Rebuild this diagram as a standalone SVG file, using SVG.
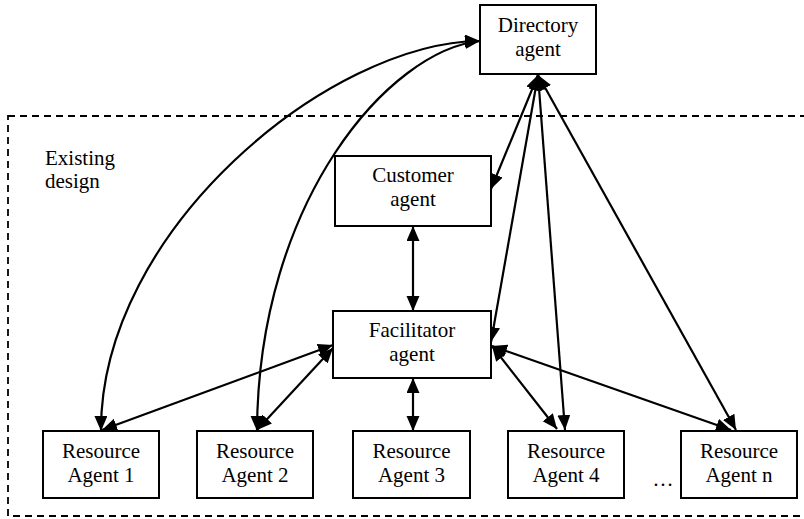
<svg xmlns="http://www.w3.org/2000/svg" width="804" height="519" viewBox="0 0 804 519">
  <style>
    .box { fill: #ffffff; stroke: #000000; stroke-width: 2; }
    text { font-family: 'Liberation Serif', 'DejaVu Serif', 'Times New Roman', serif; font-size: 21px; fill: #000000; }
    .label { text-anchor: middle; }
    .link { fill: none; stroke: #000000; stroke-width: 2.2; marker-start: url(#arrow); marker-end: url(#arrow); }
    .boundary { fill: none; stroke: #000000; stroke-width: 1.8; stroke-dasharray: 7 5; }
  </style>
  <defs>
    <marker id="arrow" markerUnits="userSpaceOnUse" markerWidth="16" markerHeight="14" refX="15" refY="6.5" orient="auto-start-reverse">
      <path d="M0,0 L15,6.5 L0,13 Z" fill="#000000"/>
    </marker>
  </defs>

  <rect width="804" height="519" fill="#ffffff"/>

  <!-- boundary of the existing system -->
  <g id="existing-design">
    <rect class="boundary" x="8" y="116" width="820" height="400"/>
    <text x="45" y="165" font-family="Liberation Serif, serif">Existing</text>
    <text x="45" y="188" font-family="Liberation Serif, serif">design</text>
  </g>

  <!-- connectors -->
  <g id="connectors">
    <path class="link" d="M480,41 C330,42 100,230 101,431"/>
    <path class="link" d="M480,41 C390,50 258,200 257,431"/>
    <line class="link" x1="413" y1="226" x2="413" y2="311"/>
    <line class="link" x1="413" y1="378" x2="413" y2="431"/>
    <line class="link" x1="538" y1="75" x2="491" y2="189"/>
    <line class="link" x1="538" y1="75" x2="491" y2="342"/>
    <line class="link" x1="538" y1="75" x2="565" y2="430"/>
    <line class="link" x1="538" y1="75" x2="736" y2="430"/>
    <line class="link" x1="333" y1="345" x2="102" y2="430"/>
    <line class="link" x1="333" y1="348" x2="257" y2="430"/>
    <line class="link" x1="492" y1="346" x2="557" y2="429"/>
    <line class="link" x1="492" y1="346" x2="731" y2="430"/>
  </g>

  <g id="directory-agent">
    <rect class="box" x="480" y="5" width="116" height="69"/>
    <text class="label" x="538" y="32">Directory</text>
    <text class="label" x="538" y="56">agent</text>
  </g>

  <g id="customer-agent">
    <rect class="box" x="335" y="156" width="156" height="70"/>
    <text class="label" x="413" y="182">Customer</text>
    <text class="label" x="413" y="206">agent</text>
  </g>

  <g id="facilitator-agent">
    <rect class="box" x="333" y="311" width="158" height="67"/>
    <text class="label" x="412" y="337">Facilitator</text>
    <text class="label" x="412" y="361">agent</text>
  </g>

  <g id="resource-agent-1">
    <rect class="box" x="43" y="431" width="116" height="67"/>
    <text class="label" x="101" y="458">Resource</text>
    <text class="label" x="101" y="482">Agent 1</text>
  </g>

  <g id="resource-agent-2">
    <rect class="box" x="197" y="431" width="116" height="67"/>
    <text class="label" x="255" y="458">Resource</text>
    <text class="label" x="255" y="482">Agent 2</text>
  </g>

  <g id="resource-agent-3">
    <rect class="box" x="353" y="431" width="117" height="67"/>
    <text class="label" x="411.5" y="458">Resource</text>
    <text class="label" x="411.5" y="482">Agent 3</text>
  </g>

  <g id="resource-agent-4">
    <rect class="box" x="508" y="431" width="116" height="67"/>
    <text class="label" x="566" y="458">Resource</text>
    <text class="label" x="566" y="482">Agent 4</text>
  </g>

  <text class="label" x="663" y="486">…</text>

  <g id="resource-agent-n">
    <rect class="box" x="681" y="431" width="116" height="67"/>
    <text class="label" x="739" y="458">Resource</text>
    <text class="label" x="739" y="482">Agent n</text>
  </g>
</svg>
